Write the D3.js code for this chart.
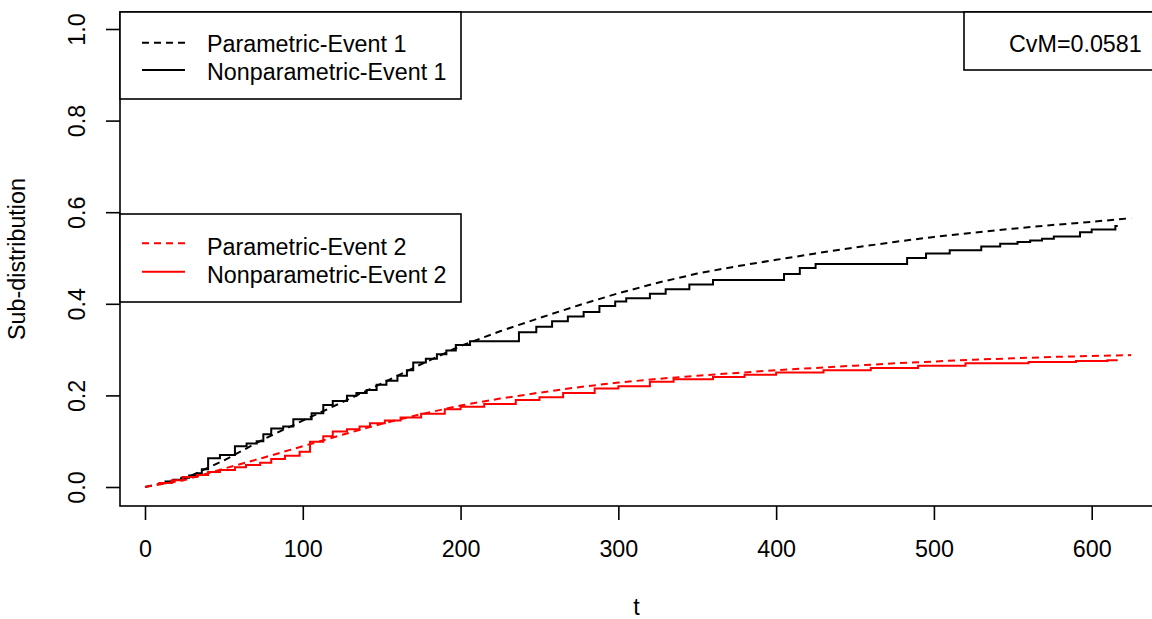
<!DOCTYPE html>
<html>
<head>
<meta charset="utf-8">
<script src="https://cdn.jsdelivr.net/npm/d3@7"></script>
<style>
  html, body { margin: 0; padding: 0; background: #fff; }
  svg { display: block; }
  text { font-family: "Liberation Sans", Arial, "Helvetica", sans-serif; fill: #000; }
</style>
</head>
<body>
<svg id="chart" width="1152" height="619"></svg>
<script>
// ---- data ----
const xTicks = [0, 100, 200, 300, 400, 500, 600];
const yTicks = [0.0, 0.2, 0.4, 0.6, 0.8, 1.0];

// parametric (smooth) curves
const paramTime = [0, 25, 50, 75, 100, 125, 150, 175, 200, 225, 250, 275, 300, 325, 350, 375, 400, 425, 450, 475, 500, 525, 550, 575, 600, 625];
const paramEvent1 = [0, 0.018, 0.058, 0.104, 0.145, 0.185, 0.226, 0.268, 0.308, 0.340, 0.369, 0.397, 0.423, 0.446, 0.466, 0.482, 0.496, 0.510, 0.523, 0.535, 0.546, 0.555, 0.564, 0.572, 0.579, 0.587];
const paramEvent2 = [0, 0.015, 0.040, 0.064, 0.089, 0.114, 0.138, 0.159, 0.178, 0.193, 0.206, 0.218, 0.228, 0.236, 0.243, 0.249, 0.255, 0.260, 0.265, 0.270, 0.274, 0.278, 0.281, 0.284, 0.286, 0.288];

// nonparametric (step) estimates
const npTime1 = [9, 13, 18, 23, 28, 33, 36, 40, 47.5, 57, 64.4, 70.8, 75, 80, 87.6, 94, 105.6, 113, 119, 128, 134, 140.5, 146.8, 153, 160, 166, 170, 178, 185, 191, 197, 206, 237, 248, 258, 268, 278, 288, 298, 305, 320, 330, 345, 360, 405, 415, 425, 483, 495, 510, 530, 542, 553, 561, 568.5, 576, 592.6, 600, 615, 616.5];
const npEvent1 = [0.008, 0.012, 0.016, 0.020, 0.025, 0.030, 0.039, 0.063, 0.070, 0.089, 0.095, 0.100, 0.115, 0.128, 0.132, 0.148, 0.161, 0.179, 0.188, 0.199, 0.205, 0.212, 0.223, 0.232, 0.243, 0.255, 0.272, 0.280, 0.290, 0.298, 0.310, 0.318, 0.338, 0.350, 0.362, 0.372, 0.382, 0.395, 0.405, 0.412, 0.422, 0.432, 0.442, 0.452, 0.465, 0.478, 0.487, 0.500, 0.510, 0.517, 0.525, 0.531, 0.535, 0.538, 0.542, 0.547, 0.556, 0.562, 0.570, 0.570];

const npTime2 = [8.4, 17, 24, 33, 40, 47.5, 57, 64, 73, 80, 88.7, 98, 104.6, 113, 119, 128, 136, 142.6, 152, 162, 175, 190, 200, 215, 235, 250, 265, 285, 300, 320, 335, 360, 380, 400, 430, 460, 490, 520, 560, 590, 610, 616.5];
const npEvent2 = [0.009, 0.015, 0.022, 0.026, 0.033, 0.037, 0.043, 0.048, 0.053, 0.061, 0.068, 0.077, 0.099, 0.111, 0.121, 0.126, 0.132, 0.139, 0.145, 0.152, 0.160, 0.170, 0.175, 0.181, 0.190, 0.196, 0.205, 0.215, 0.220, 0.230, 0.235, 0.240, 0.245, 0.250, 0.255, 0.260, 0.265, 0.270, 0.273, 0.275, 0.277, 0.277];

const legend1Labels = ["Parametric-Event 1", "Nonparametric-Event 1"];
const legend2Labels = ["Parametric-Event 2", "Nonparametric-Event 2"];
const statLabel = "CvM=0.0581";

// ---- drawing ----
const svg = d3.select("#chart");
const FS = 23.3;
const box = { left: 120, top: 12, right: 1153, bottom: 506 };

const x = d3.scaleLinear().domain([0, 600]).range([145, 1091.7]);
const y = d3.scaleLinear().domain([0, 1]).range([487, 29]);

svg.append("defs").append("clipPath").attr("id", "clip")
  .append("rect").attr("x", box.left).attr("y", box.top)
  .attr("width", box.right - box.left).attr("height", box.bottom - box.top);

const plot = svg.append("g").attr("clip-path", "url(#clip)");

const smooth = d3.line().x(d => x(d[0])).y(d => y(d[1]));
const step = d3.line().x(d => x(d[0])).y(d => y(d[1])).curve(d3.curveStepAfter);

const zip = (a, b) => a.map((v, i) => [v, b[i]]);

plot.append("path").datum(zip(npTime1, npEvent1)).attr("d", step)
  .attr("fill", "none").attr("stroke", "#000").attr("stroke-width", 2);
plot.append("path").datum(zip(paramTime, paramEvent1)).attr("d", smooth)
  .attr("fill", "none").attr("stroke", "#000").attr("stroke-width", 2).attr("stroke-dasharray", "7,5");
plot.append("path").datum(zip(npTime2, npEvent2)).attr("d", step)
  .attr("fill", "none").attr("stroke", "#ff0000").attr("stroke-width", 2);
plot.append("path").datum(zip(paramTime, paramEvent2)).attr("d", smooth)
  .attr("fill", "none").attr("stroke", "#ff0000").attr("stroke-width", 2).attr("stroke-dasharray", "7,5");

// box
svg.append("rect").attr("x", box.left).attr("y", box.top)
  .attr("width", box.right - box.left).attr("height", box.bottom - box.top)
  .attr("fill", "none").attr("stroke", "#000").attr("stroke-width", 1.6);

// x axis
const xAxis = svg.append("g").attr("transform", `translate(0,${box.bottom})`)
  .call(d3.axisBottom(x).tickValues(xTicks).tickSize(14).tickPadding(20).tickFormat(d3.format("d")));
xAxis.select(".domain").remove();
xAxis.selectAll("line").attr("stroke", "#000").attr("stroke-width", 1.6);
xAxis.selectAll("text").attr("font-size", FS).attr("font-family", null).attr("fill", "#000");

// y axis
const yAxis = svg.append("g").attr("transform", `translate(${box.left},0)`)
  .call(d3.axisLeft(y).tickValues(yTicks).tickSize(14).tickFormat(d3.format(".1f")));
yAxis.select(".domain").remove();
yAxis.selectAll("line").attr("stroke", "#000").attr("stroke-width", 1.6);
yAxis.selectAll("text")
  .attr("font-size", FS).attr("font-family", null).attr("fill", "#000")
  .attr("x", 0).attr("y", -35).attr("dy", null)
  .attr("text-anchor", "middle").attr("transform", "rotate(-90)");

// axis titles
svg.append("text").attr("transform", "translate(25,259) rotate(-90)")
  .attr("text-anchor", "middle").attr("font-size", FS).text("Sub-distribution");
svg.append("text").attr("x", 636.5).attr("y", 615)
  .attr("text-anchor", "middle").attr("font-size", FS).text("t");

// legends
function legend(top, bottom, labels, color, lineYs, textYs) {
  const g = svg.append("g");
  g.append("rect").attr("x", 120).attr("y", top).attr("width", 341).attr("height", bottom - top)
    .attr("fill", "#fff").attr("stroke", "#000").attr("stroke-width", 1.6);
  labels.forEach((lab, i) => {
    g.append("line").attr("x1", 142).attr("x2", 185).attr("y1", lineYs[i]).attr("y2", lineYs[i])
      .attr("stroke", color).attr("stroke-width", 2)
      .attr("stroke-dasharray", i === 0 ? "7,5" : null);
    g.append("text").attr("x", 207).attr("y", textYs[i]).attr("font-size", FS).text(lab);
  });
}
legend(12, 99, legend1Labels, "#000", [42.7, 70], [52, 80]);
legend(214, 302, legend2Labels, "#ff0000", [243.3, 271.7], [255, 283]);

// statistic box
svg.append("rect").attr("x", 964).attr("y", 12).attr("width", 189).attr("height", 58)
  .attr("fill", "#fff").attr("stroke", "#000").attr("stroke-width", 1.6);
svg.append("text").attr("x", 1009).attr("y", 52).attr("font-size", FS).text(statLabel);
</script>
</body>
</html>
